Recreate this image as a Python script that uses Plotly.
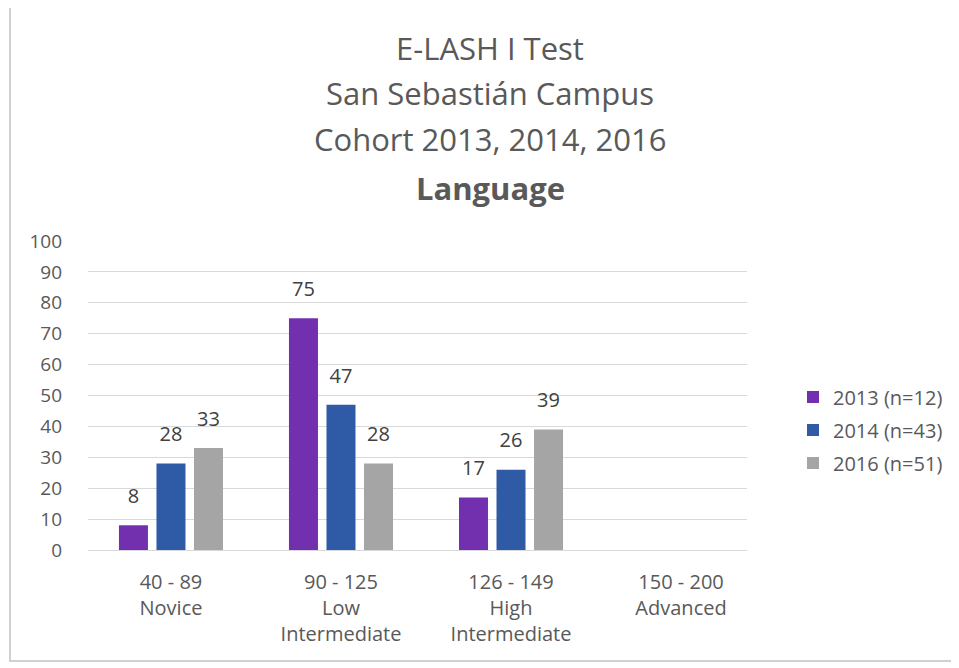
import plotly.graph_objects as go

categories = ["40 - 89<br>Novice", "90 - 125<br>Low<br>Intermediate",
              "126 - 149<br>High<br>Intermediate", "150 - 200<br>Advanced"]
series_names = ["2013 (n=12)", "2014 (n=43)", "2016 (n=51)"]
values_2013 = [8, 75, 17, None]
values_2014 = [28, 47, 26, None]
values_2016 = [33, 28, 39, None]
y_ticks = [0, 10, 20, 30, 40, 50, 60, 70, 80, 90, 100]
title_lines = ["E-LASH I Test", "San Sebastián Campus", "Cohort 2013, 2014, 2016", "<b>Language</b>"]

colors = ["#7330AE", "#2E5AA6", "#A5A5A5"]
FONT = "'Open Sans', 'Noto Sans', sans-serif"
TXT = "#595959"

OFF = 8  # page body margin
W, H = 959 - OFF, 668 - OFF
# plot area in screen pixels: x 88..747, y 241..550
L, R, T, B = 88 - OFF, 959 - 747, 241 - OFF, 668 - 550
pw, ph = W - L - R, H - T - B

def px_x(x):
    return (x - OFF - L) / pw

def px_y(y):
    return (H - B - (y - OFF)) / ph

fig = go.Figure()
all_series = [values_2013, values_2014, values_2016]
for i, (name, vals, col) in enumerate(zip(series_names, all_series, colors)):
    fig.add_trace(go.Bar(
        x=categories, y=vals, name=name, marker=dict(color=col, line=dict(width=0)),
        offsetgroup=str(i), legendgroup=name,
    ))
for i, (name, vals) in enumerate(zip(series_names, all_series)):
    fig.add_trace(go.Scatter(
        x=categories, y=vals, mode="markers+text", showlegend=False, hoverinfo="skip",
        text=[str(v) if v is not None else "" for v in vals],
        textposition="top center", offsetgroup=str(i), cliponaxis=False,
        marker=dict(size=26, opacity=0),
        textfont=dict(family=FONT, size=20, color="#404040"),
        legendgroup=name,
    ))

title_y = [48, 93, 139, 188]
for line, yy in zip(title_lines, title_y):
    fig.add_annotation(text=line, x=px_x(490), y=px_y(yy), xref="paper", yref="paper",
                       showarrow=False, xanchor="center", yanchor="middle",
                       font=dict(family=FONT, size=31, color=TXT))

fig.add_shape(type="rect", xref="paper", yref="paper",
              x0=px_x(10), x1=px_x(957), y0=px_y(661), y1=px_y(6),
              line=dict(color="#D0D0D0", width=2), fillcolor="rgba(0,0,0,0)", layer="below")

fig.update_layout(
    width=W, height=H,
    margin=dict(l=L, r=R, t=T, b=B, autoexpand=False),
    paper_bgcolor="white", plot_bgcolor="white",
    barmode="group", bargap=0.338, bargroupgap=0.227,
    scattermode="group", scattergap=0.338,
    font=dict(family=FONT, color=TXT),
    legend=dict(x=px_x(793), y=px_y(430), xanchor="left", yanchor="middle",
                font=dict(family=FONT, size=20, color=TXT), tracegroupgap=4,
                itemwidth=30, bgcolor="rgba(0,0,0,0)"),
    xaxis=dict(range=[-0.488, 3.388], showgrid=False, showline=True,
               linecolor="#D9D9D9", linewidth=1, ticks="",
               ticklabelstandoff=14,
               tickfont=dict(family=FONT, size=20, color=TXT), fixedrange=True),
    yaxis=dict(range=[0, 100], tickvals=y_ticks, showgrid=True, gridcolor="#D9D9D9",
               gridwidth=1, zeroline=False, showline=False, ticks="",
               ticklabelstandoff=25,
               tickfont=dict(family=FONT, size=19, color=TXT)),
)

fig.write_html("out.html")
